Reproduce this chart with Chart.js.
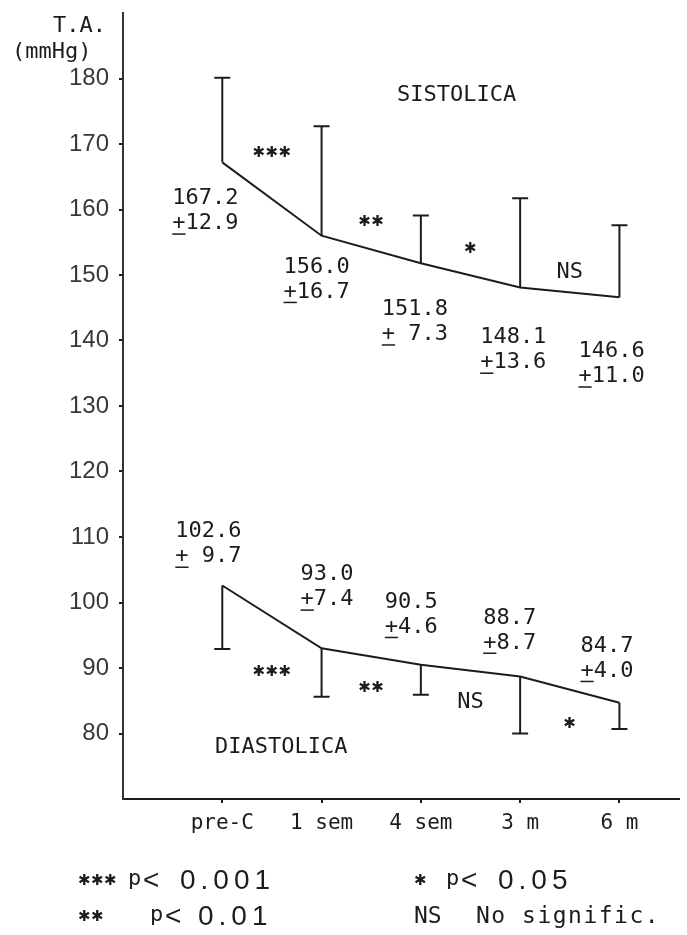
<!DOCTYPE html>
<html>
<head>
<meta charset="utf-8">
<script src="https://cdn.jsdelivr.net/npm/chart.js@4.4.1/dist/chart.umd.min.js"></script>
<style>
  html, body { margin: 0; padding: 0; background: #fff; }
  #wrap { width: 687px; height: 935px; position: relative; }
</style>
</head>
<body>
<div id="wrap"><canvas id="chartCanvas"></canvas></div>
<script>
// data
const categories = ['pre-C', '1 sem', '4 sem', '3 m', '6 m'];
const sistolica = [167.2, 156.0, 151.8, 148.1, 146.6];
const sistolicaSD = [12.9, 16.7, 7.3, 13.6, 11.0];
const diastolica = [102.6, 93.0, 90.5, 88.7, 84.7];
const diastolicaSD = [9.7, 7.4, 4.6, 8.7, 4.0];
const yTicks = [80, 90, 100, 110, 120, 130, 140, 150, 160, 170, 180];
const sigSistolica = ['***', '**', '*', 'NS'];
const sigDiastolica = ['***', '**', 'NS', '*'];
const legendItems = [
	['***', 'p', '0.001'],
	['**', 'p', '0.01'],
	['*', 'p', '0.05'],
	['NS', 'No signific.', '']
];

const ink = '#1c1c1c';
const mono = '"DejaVu Sans Mono", monospace';
const sans = '"Liberation Sans", Arial, sans-serif';

// label placement (offset of first text line from the point, px)
const sisLabelPos = [[-50, 42], [-38, 37], [-39, 52], [-40, 56], [-41, 60]];
const diaLabelPos = [[-47, -48], [-21, -68], [-36, -57], [-37, -53], [-39, -51]];
const sisSigDy = [-46, -27, -26, -20];
const diaSigDy = [55, 32, 32, 34];

function toPoints(values) {
	return values.map((v, i) => ({ x: i, y: v }));
}

function sdText(mean, sd) {
	const w = String(Math.floor(mean)).length + 1;
	return '+' + sd.toFixed(1).padStart(w);
}

function drawStars(ctx, n, x, y) {
	ctx.font = '15px "DejaVu Sans"';
	ctx.textAlign = 'left';
	ctx.textBaseline = 'middle';
	for (let k = 0; k < n; k++) ctx.fillText('\u2731', x + k * 13, y);
}

function drawSig(ctx, sig, cx, cy) {
	if (sig === 'NS') {
		ctx.font = '22px ' + mono;
		ctx.textAlign = 'center';
		ctx.textBaseline = 'middle';
		ctx.fillText('NS', cx, cy);
	} else {
		drawStars(ctx, sig.length, cx - (sig.length * 13) / 2, cy);
	}
}

function drawErrorBars(ctx, xs, ys, values, sds, dir) {
	values.forEach((v, i) => {
		const px = xs.getPixelForValue(i);
		const py = ys.getPixelForValue(v);
		const pe = ys.getPixelForValue(v + dir * sds[i]);
		ctx.beginPath();
		ctx.moveTo(px, py);
		ctx.lineTo(px, pe);
		ctx.moveTo(px - 8, pe);
		ctx.lineTo(px + 8, pe);
		ctx.stroke();
	});
}

function drawValueLabels(ctx, xs, ys, values, sds, pos) {
	ctx.font = '22px ' + mono;
	ctx.textAlign = 'left';
	ctx.textBaseline = 'alphabetic';
	values.forEach((v, i) => {
		const px = xs.getPixelForValue(i) + pos[i][0];
		const py = ys.getPixelForValue(v) + pos[i][1];
		ctx.fillText(v.toFixed(1), px, py);
		ctx.fillText(sdText(v, sds[i]), px, py + 25);
		const cw = ctx.measureText('0').width;
		ctx.fillRect(px, py + 29, cw, 1.5);
	});
}

function drawSigMarks(ctx, xs, ys, values, sigs, dys) {
	sigs.forEach((s, i) => {
		const cx = (xs.getPixelForValue(i) + xs.getPixelForValue(i + 1)) / 2;
		const cy = (ys.getPixelForValue(values[i]) + ys.getPixelForValue(values[i + 1])) / 2 + dys[i];
		drawSig(ctx, s, cx, cy);
	});
}

const overlay = {
	id: 'overlay',
	afterDatasetsDraw(chart) {
		const ctx = chart.ctx;
		const xs = chart.scales.x;
		const ys = chart.scales.y;
		ctx.save();
		ctx.strokeStyle = ink;
		ctx.fillStyle = ink;
		ctx.lineWidth = 2;
		drawErrorBars(ctx, xs, ys, sistolica, sistolicaSD, 1);
		drawErrorBars(ctx, xs, ys, diastolica, diastolicaSD, -1);
		drawValueLabels(ctx, xs, ys, sistolica, sistolicaSD, sisLabelPos);
		drawValueLabels(ctx, xs, ys, diastolica, diastolicaSD, diaLabelPos);
		drawSigMarks(ctx, xs, ys, sistolica, sigSistolica, sisSigDy);
		drawSigMarks(ctx, xs, ys, diastolica, sigDiastolica, diaSigDy);

		ctx.font = '22px ' + mono;
		ctx.textBaseline = 'alphabetic';
		ctx.textAlign = 'left';
		ctx.fillText('SISTOLICA', 397, 101);
		ctx.fillText('DIASTOLICA', 215, 753);
		ctx.textAlign = 'right';
		ctx.fillText('T.A.', 106, 32);
		ctx.textAlign = 'left';
		ctx.fillText('(mmHg)', 12, 58);

		// key at the bottom
		const cols = [[78, 881], [78, 917], [414, 881], [414, 917]];
		const numX = [180, 198];
		legendItems.forEach((it, k) => {
			const [lx, ly] = cols[k];
			ctx.fillStyle = ink;
			ctx.textAlign = 'left';
			ctx.textBaseline = 'middle';
			if (it[0] === 'NS') {
				ctx.font = '23px ' + mono;
				ctx.fillText('NS', lx, ly);
				ctx.letterSpacing = '1.5px';
				ctx.fillText(it[1], lx + 62, ly);
				ctx.letterSpacing = '0px';
				return;
			}
			drawStars(ctx, it[0].length, lx, ly);
			const px = k === 1 ? lx + 72 : (k === 2 ? lx + 32 : lx + 50);
			ctx.font = '22px ' + mono;
			ctx.fillText(it[1], px, ly - 2);
			ctx.font = '28px ' + sans;
			ctx.fillText('<', px + 15, ly);
			ctx.letterSpacing = '5px';
			ctx.fillText(it[2], k < 2 ? numX[k] : px + 52, ly);
			ctx.letterSpacing = '0px';
		});
		ctx.restore();
	}
};

const config = {
	type: 'line',
	data: {
		datasets: [
			{ label: 'SISTOLICA', data: toPoints(sistolica) },
			{ label: 'DIASTOLICA', data: toPoints(diastolica) }
		]
	},
	options: {
		responsive: true,
		maintainAspectRatio: false,
		animation: false,
		layout: { padding: { left: 0, top: 13, right: 8, bottom: 91 } },
		elements: {
			line: { borderColor: ink, borderWidth: 2, tension: 0 },
			point: { radius: 0 }
		},
		plugins: {
			legend: { display: false },
			title: { display: false },
			tooltip: { enabled: false }
		},
		scales: {
			x: {
				type: 'linear',
				min: -1,
				max: 4.6,
				afterBuildTicks: (axis) => { axis.ticks = categories.map((c, i) => ({ value: i })); },
				afterFit: (axis) => {
					axis.height = 45;
					axis.paddingLeft = 0;
					axis.paddingRight = 0;
				},
				ticks: {
					callback: (v) => categories[v],
					color: ink,
					font: { family: mono, size: 21 },
					padding: 8,
					maxRotation: 0
				},
				grid: { display: true, drawOnChartArea: false, drawTicks: true, tickLength: 4, color: ink, lineWidth: 2 },
				border: { display: true, color: ink, width: 2 }
			},
			y: {
				type: 'linear',
				min: 70,
				max: 190,
				afterBuildTicks: (axis) => { axis.ticks = yTicks.map(v => ({ value: v })); },
				afterFit: (axis) => {
					axis.width = 123;
					axis.paddingTop = 0;
					axis.paddingBottom = 0;
				},
				ticks: {
					color: '#383838',
					font: { family: sans, size: 24 },
					padding: 10
				},
				grid: { display: true, drawOnChartArea: false, drawTicks: true, tickLength: 4, color: ink, lineWidth: 2 },
				border: { display: true, color: '#333', width: 2 }
			}
		}
	},
	plugins: [overlay]
};

const ctx = document.getElementById('chartCanvas').getContext('2d');
const chart = new Chart(ctx, config);
</script>
</body>
</html>
